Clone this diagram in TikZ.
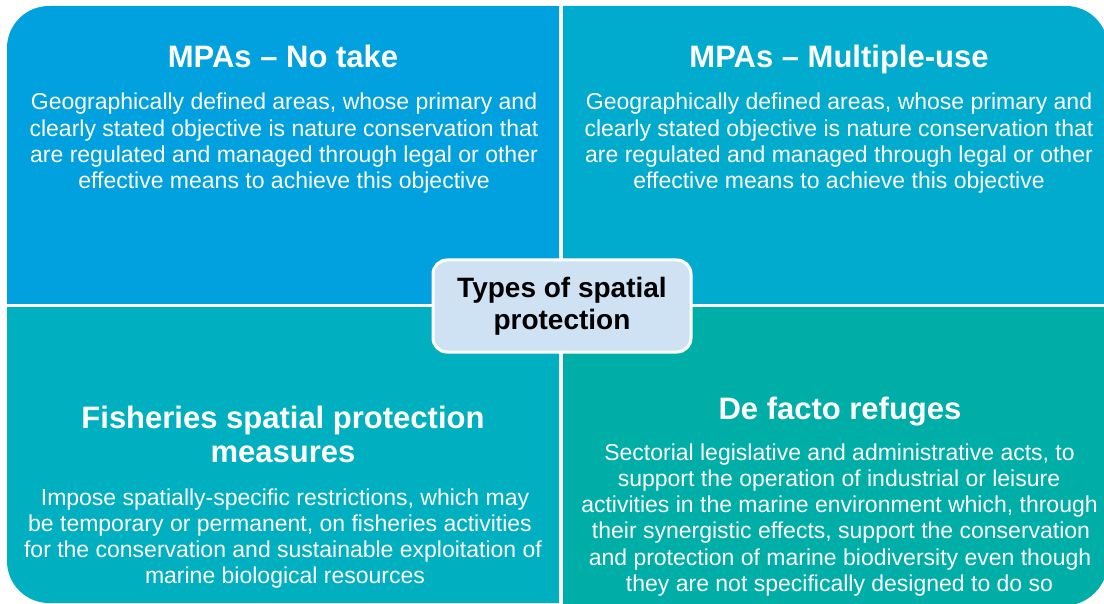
\documentclass[tikz,border=0pt]{standalone}
\usepackage{fontspec}
\setmainfont{Liberation Sans}
\definecolor{qtl}{RGB}{0,161,222}
\definecolor{qtr}{RGB}{0,171,205}
\definecolor{qbl}{RGB}{0,176,192}
\definecolor{qbr}{RGB}{0,174,168}
\definecolor{cbox}{RGB}{207,226,243}
\tikzset{
  ttl/.style={font=\fontsize{31}{35}\selectfont\bfseries, text=white, anchor=base, inner sep=0pt},
  bod/.style={font=\fontsize{23}{26.5}\selectfont, text=white, anchor=base, inner sep=0pt},
  centbox/.style={draw=white, line width=3pt, fill=cbox, rounded corners=14pt,
    minimum width=258pt, minimum height=92pt, align=center, inner sep=0pt,
    font=\fontsize{28}{32}\selectfont\bfseries, text=black},
}
\begin{document}
\begin{tikzpicture}[x=1pt,y=-1pt]
\useasboundingbox (0,0) rectangle (1104,604);
\fill[white] (0,0) rectangle (1104,604);
% quadrants
\begin{scope}
  \clip (7,6) rectangle (559,304);
  \fill[qtl, rounded corners=42pt] (7,6) rectangle (659,404);
\end{scope}
\begin{scope}
  \clip (563,6) rectangle (1108,304);
  \fill[qtr, rounded corners=42pt] (463,6) rectangle (1108,404);
\end{scope}
\begin{scope}
  \clip (7,308) rectangle (559,603);
  \fill[qbl, rounded corners=42pt] (7,208) rectangle (659,603);
\end{scope}
\begin{scope}
  \clip (563,308) rectangle (1108,606);
  \fill[qbr, rounded corners=45pt] (463,208) rectangle (1108,606);
\end{scope}
% top-left
\node[ttl] (ttl) at (283,68) {MPAs – No take};
\node[bod] (tla) at (284,110) {Geographically defined areas, whose primary and};
\node[bod] (tlb) at (284,136.3) {clearly stated objective is nature conservation that};
\node[bod] (tlc) at (284,162.6) {are regulated and managed through legal or other};
\node[bod] (tld) at (284,188.9) {effective means to achieve this objective};
% top-right
\node[ttl] (ttr) at (839,68) {MPAs – Multiple-use};
\node[bod] (tra) at (839,110) {Geographically defined areas, whose primary and};
\node[bod] (trb) at (839,136.3) {clearly stated objective is nature conservation that};
\node[bod] (trc) at (839,162.6) {are regulated and managed through legal or other};
\node[bod] (trd) at (839,188.9) {effective means to achieve this objective};
% bottom-left
\node[ttl] (tbl1) at (283,428) {Fisheries spatial protection};
\node[ttl] (tbl2) at (283,462) {measures};
\node[bod] (bla) at (285,505) {Impose spatially-specific restrictions, which may};
\node[bod] (blb) at (280,531.3) {be temporary or permanent, on fisheries activities};
\node[bod] (blc) at (283,557.6) {for the conservation and sustainable exploitation of};
\node[bod] (bld) at (285,583.9) {marine biological resources};
% bottom-right
\node[ttl] (tbr) at (840,419) {De facto refuges};
\node[bod] (bra) at (839.5,460) {Sectorial legislative and administrative acts, to};
\node[bod] (brb) at (839,486.3) {support the operation of industrial or leisure};
\node[bod] (brc) at (839.5,512.6) {activities in the marine environment which, through};
\node[bod] (brd) at (841,538.9) {their synergistic effects, support the conservation};
\node[bod] (bre) at (840,565.2) {and protection of marine biodiversity even though};
\node[bod] (brf) at (839.5,591.5) {they are not specifically designed to do so};
% centre
\node[centbox] (ctr) at (562,306) {Types of spatial\\protection};
\end{tikzpicture}
\end{document}
